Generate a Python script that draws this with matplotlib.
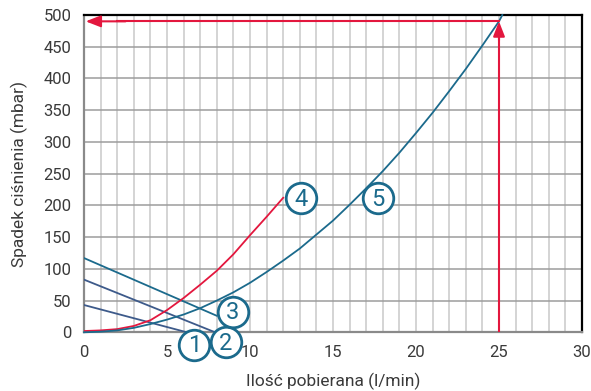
import matplotlib
matplotlib.use("Agg")
import matplotlib.pyplot as plt

# flow rate (l/min) and pressure drop (mbar) per curve
x1 = [0, 6.2]
y1 = [43, 0]
x2 = [0, 7.9]
y2 = [83, 0]
x3 = [0, 8.0]
y3 = [117, 26]
x4 = [0, 1, 2, 3, 4, 5, 6, 7, 8, 9, 10, 11, 12]
y4 = [2, 3, 5, 10, 19, 35, 54, 75, 97, 123, 153, 182, 212]
x5 = [0, 1, 2, 3, 4, 5, 6, 7, 8, 9, 10, 11, 12, 13, 14, 15, 16, 17, 18,
      19, 20, 21, 22, 23, 24, 25, 25.2]
y5 = [0, 1, 3, 7, 13, 20, 28, 38, 50, 63, 78, 95, 113, 132, 154, 176, 201,
      227, 254, 283, 314, 346, 380, 415, 452, 490, 500]

flow_sel = 25
drop_sel = 490

labels = ["1", "2", "3", "4", "5"]
label_x = [6.65, 8.55, 8.96, 13.1, 17.73]
label_y = [-20, -16, 32, 211, 211]

TEAL = "#1b6a8c"
SLATE = "#3d5a8a"
RED = "#e3173e"
TXT = "#3a3a3a"

plt.rcParams["font.family"] = ["Roboto", "DejaVu Sans"]

fig = plt.figure(figsize=(5.91, 3.91), dpi=100)
ax = fig.add_axes([84 / 591, 1 - 332.3 / 391, 498 / 591, 317.3 / 391])
ax.set_xlim(0, 30)
ax.set_ylim(0, 500)

# grid: thin light verticals every 1 l/min, darker horizontals every 50 mbar
for v in range(1, 30):
    ax.axvline(v, color="#c9c9c9", lw=1.1, zorder=0)
for h in range(50, 500, 50):
    ax.axhline(h, color="#9c9c9c", lw=1.1, zorder=0)

ax.set_xticks(range(0, 31, 5))
ax.set_yticks(range(0, 501, 50))
ax.tick_params(length=0, labelsize=12, colors=TXT, pad=9)

for side in ["left", "bottom"]:
    ax.spines[side].set_color("#8a8a8a")
    ax.spines[side].set_linewidth(1.6)
for side in ["top", "right"]:
    ax.spines[side].set_color("black")
    ax.spines[side].set_linewidth(1.6)

ax.plot(x1, y1, color=SLATE, lw=1.3, zorder=3)
ax.plot(x2, y2, color=SLATE, lw=1.3, zorder=3)
ax.plot(x3, y3, color=TEAL, lw=1.3, zorder=3)
ax.plot(x4, y4, color=RED, lw=1.3, zorder=3)
ax.plot(x5, y5, color=TEAL, lw=1.3, zorder=3, clip_on=False)

# reading arrows
ax.plot([flow_sel, flow_sel], [0, drop_sel - 20], color=RED, lw=1.5, zorder=4)
ax.annotate("", xy=(flow_sel, drop_sel), xytext=(flow_sel, drop_sel - 30),
            arrowprops=dict(arrowstyle="-|>,head_length=0.9,head_width=0.35",
                            color=RED, lw=1.5, shrinkA=0, shrinkB=0), zorder=4)
ax.plot([flow_sel, 2], [drop_sel, drop_sel], color=RED, lw=1.5, zorder=4)
ax.annotate("", xy=(0.1, drop_sel), xytext=(2.5, drop_sel),
            arrowprops=dict(arrowstyle="-|>,head_length=0.9,head_width=0.35",
                            color=RED, lw=1.5, shrinkA=0, shrinkB=0), zorder=4)

for t, lx, ly in zip(labels, label_x, label_y):
    ax.plot(lx, ly, marker="o", ms=22, mfc="white", mec=TEAL, mew=2,
            clip_on=False, zorder=5)
    ax.text(lx, ly - 1, t, color=TEAL, fontsize=17, ha="center", va="center",
            zorder=6, clip_on=False)

ax.set_xlabel("Ilość pobierana (l/min)", fontsize=12.5, color=TXT, labelpad=9)
ax.set_ylabel("Spadek ciśnienia (mbar)", fontsize=12.5, color=TXT, labelpad=11)

fig.savefig("out.png", dpi=100)
